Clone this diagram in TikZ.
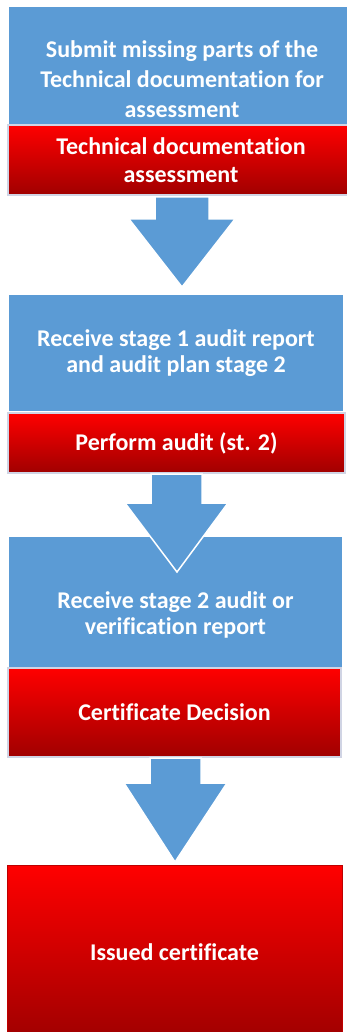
\documentclass[tikz,border=0pt]{standalone}
\usepackage{fontspec}
\setmainfont[Ligatures=NoCommon]{Carlito}
\usetikzlibrary{calc}
\definecolor{bluebox}{RGB}{91,155,213}
\definecolor{redtop}{RGB}{255,0,0}
\definecolor{redmid}{RGB}{232,0,0}
\definecolor{redbot}{RGB}{160,0,0}
\definecolor{redrim}{RGB}{208,212,228}
\tikzset{
  x=1pt, y=-1pt,
  bluestep/.style={fill=bluebox, draw=none, inner sep=0pt, text=white,
    font=\fontsize{24}{30}\selectfont\bfseries, align=center},
  redstep/.style={top color=redtop, middle color=redmid, bottom color=redbot,
    draw=redrim, line width=2pt, inner sep=0pt, text=white,
    font=\fontsize{24}{28}\selectfont\bfseries, align=center},
  blockarrow/.style={fill=bluebox, draw=white, line width=1.5pt, line join=miter}
}
\begin{document}
\begin{tikzpicture}
\useasboundingbox (0,0) rectangle (347,1032);
\clip (0,0) rectangle (347,1032);
% boxes
\node[bluestep, minimum width=346pt, minimum height=118pt] (b1) at (182,66) {};
\node[bluestep, fill=none] (b1t) at (182,79) {Submit missing parts of the\\Technical documentation for\\assessment};
\node[redstep, minimum width=346pt, minimum height=70pt] (t1) at (181,160) {Technical documentation\\assessment};

\node[bluestep, minimum width=334pt, minimum height=116pt, font=\fontsize{24}{26}\selectfont\bfseries] (b2) at (176,353) {Receive stage 1 audit report\\and audit plan stage 2};
\node[redstep, minimum width=337pt, minimum height=60pt] (t2) at (176.5,443) {Perform audit (st. 2)};

\node[bluestep, minimum width=333pt, minimum height=131pt] (b3) at (175.5,602.5) {};
\node[bluestep, fill=none, font=\fontsize{24}{26}\selectfont\bfseries] (b3t) at (175.5,615) {Receive stage 2 audit or\\verification report};
\node[redstep, minimum width=333pt, minimum height=89pt] (t3) at (174.5,712.5) {Certificate Decision};

\node[redstep, draw={rgb,255:red,190;green,0;blue,0}, line width=1pt, minimum width=335pt, minimum height=174pt] (t4) at (174.5,952) {Issued certificate};

% block arrows
\draw[blockarrow] (155,197) -- (209,197) -- (209,219) -- (235,219) -- (182,287) -- (129,219) -- (155,219) -- cycle;
\draw[blockarrow] (151,474) -- (202,474) -- (202,503) -- (228,503) -- (177,572) -- (125,503) -- (151,503) -- cycle;
\draw[blockarrow] (150,758) -- (201,758) -- (201,783) -- (227,783) -- (175,862) -- (124,783) -- (150,783) -- cycle;
\end{tikzpicture}
\end{document}
